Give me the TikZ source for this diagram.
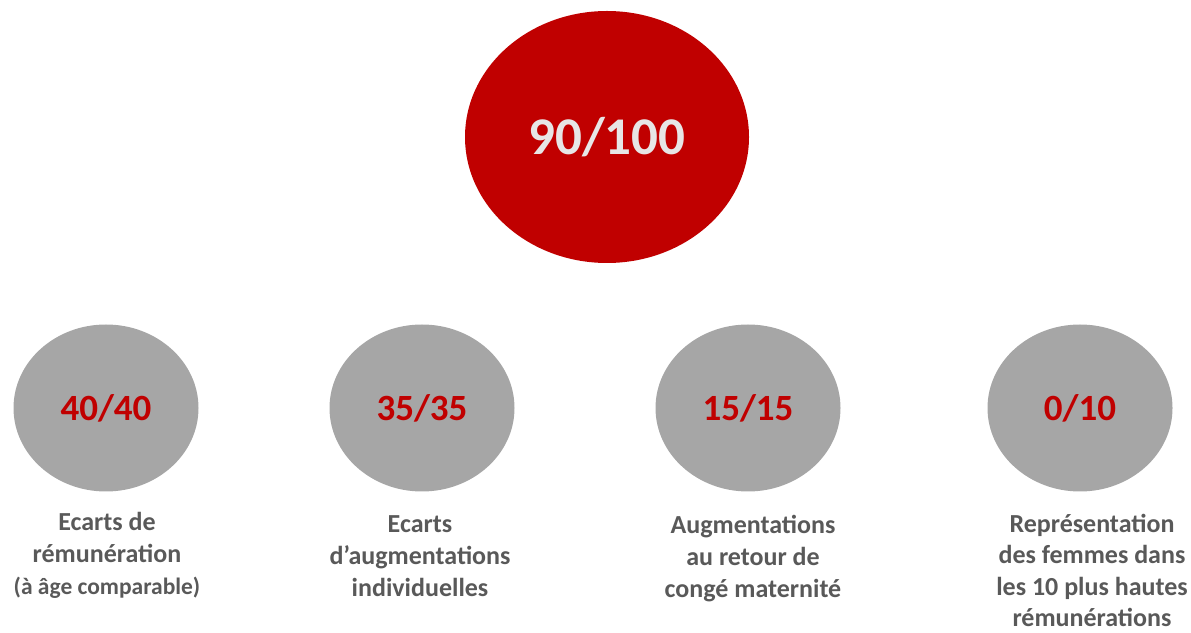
\documentclass[tikz,border=0pt]{standalone}
\usepackage{fontspec}
\setmainfont{Carlito}
\usetikzlibrary{shapes.geometric}
\definecolor{scorered}{HTML}{C00000}
\definecolor{discgray}{HTML}{A6A6A6}
\definecolor{labelgray}{HTML}{595959}
\definecolor{totalfg}{HTML}{E7E6E6}

\begin{document}
\begin{tikzpicture}[x=1pt,y=1pt,
  total/.style={ellipse,fill=scorered,text=totalfg,minimum width=284pt,minimum height=252pt,inner sep=0pt,font=\fontsize{53}{60}\selectfont\bfseries},
  part/.style={ellipse,fill=discgray,text=scorered,minimum width=185pt,minimum height=167pt,inner sep=0pt,font=\fontsize{37}{42}\selectfont\bfseries},
  caption/.style={anchor=north,align=center,inner sep=0pt,text=labelgray,font=\fontsize{26}{32}\selectfont\bfseries}]
\useasboundingbox (0,0) rectangle (1191,632);
% Total score on top
\node[total] (total) at (607,495) {90/100};
% The four indicators
\node[part] (ecart) at (106,224) {40/40};
\node[part] (augm) at (422,224) {35/35};
\node[part] (conge) at (748,224) {15/15};
\node[part] (hautes) at (1080,224) {0/10};
% Captions below the indicators
\node[caption] (ecartlbl) at (107,120) {Ecarts de\\rémunération\\{\fontsize{23.5}{32}\selectfont (à âge comparable)}};
\node[caption] (augmlbl) at (420,117) {Ecarts\\d’augmentations\\individuelles};
\node[caption] (congelbl) at (753,117) {Augmentations\\au retour de\\congé maternité};
\node[caption,font=\fontsize{26}{31.5}\selectfont\bfseries] (hauteslbl) at (1092,118) {Représentation\\des femmes dans\\les 10 plus hautes\\rémunérations};
\end{tikzpicture}
\end{document}
